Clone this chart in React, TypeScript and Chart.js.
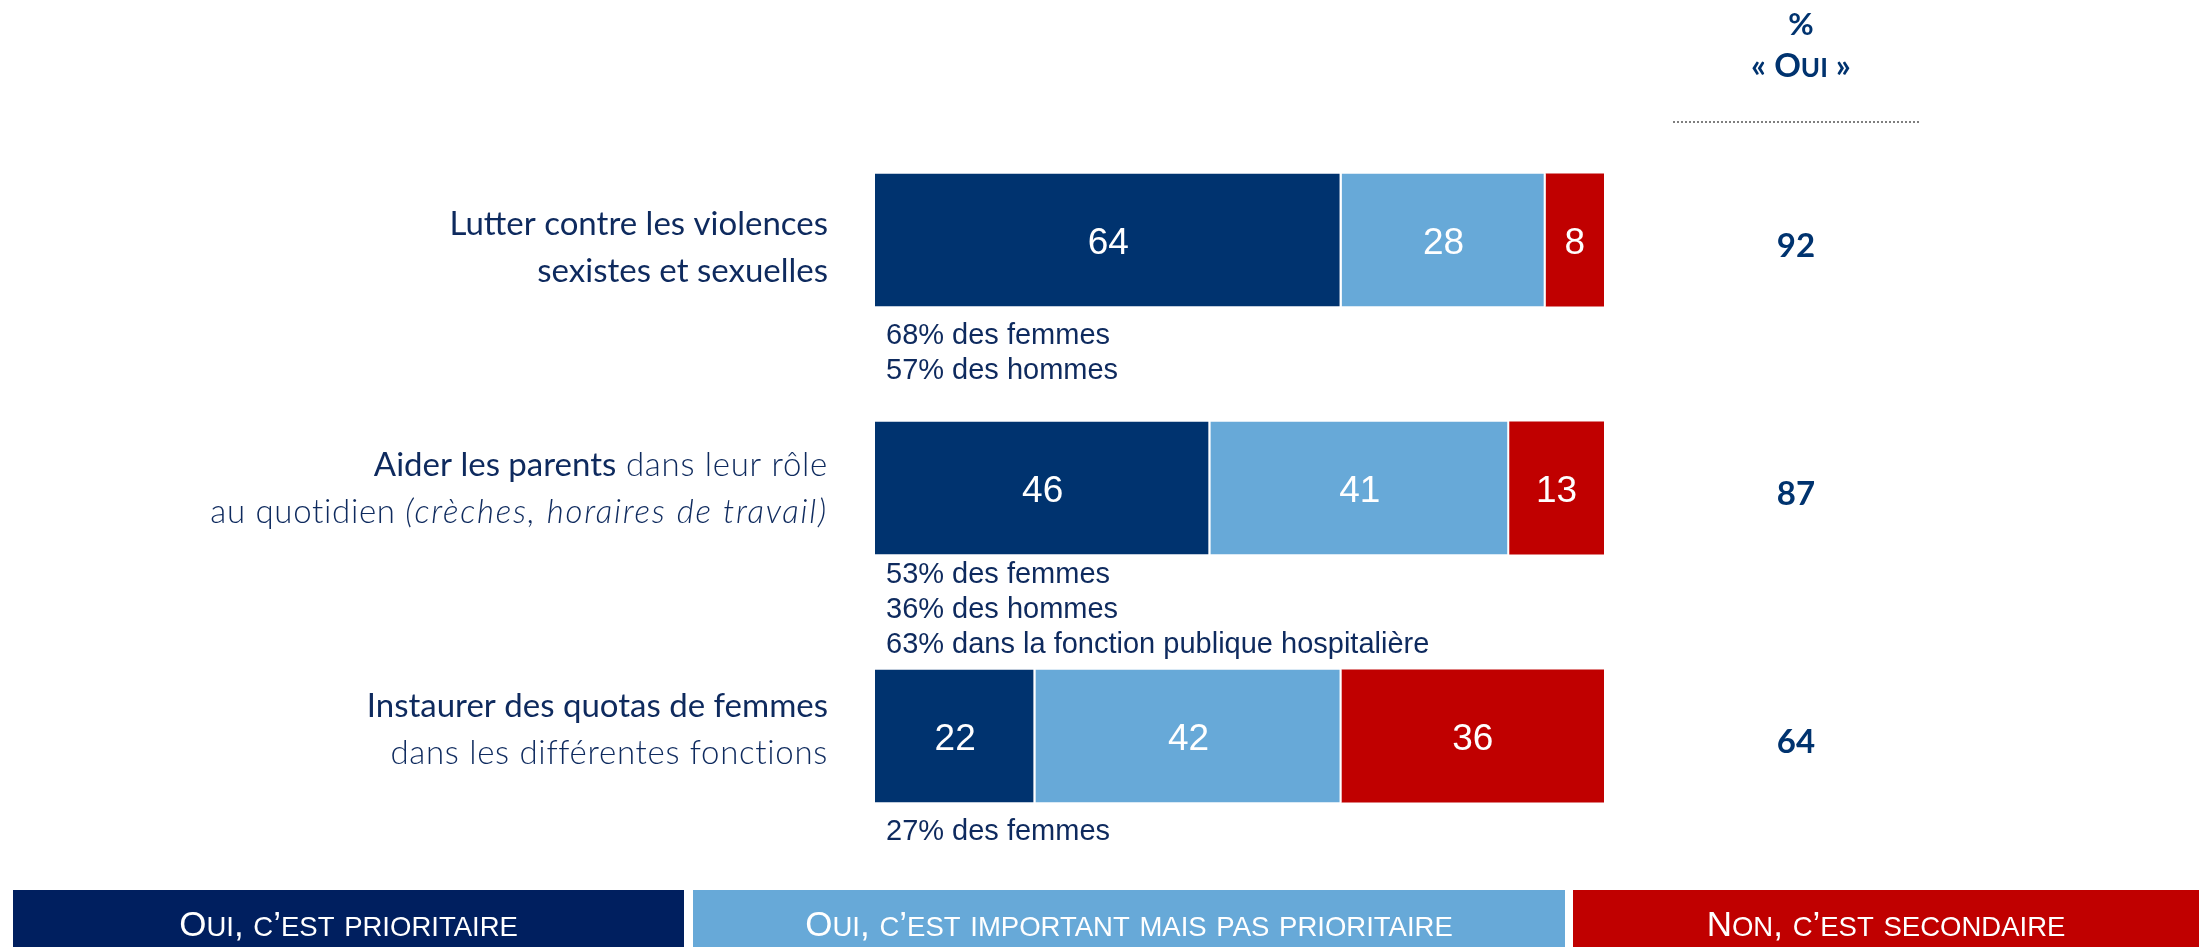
import { useEffect, useRef } from "react";
import { Chart, registerables } from "chart.js";

Chart.register(...registerables);

// ---------- data ----------
const categories = [
  "Lutter contre les violences sexistes et sexuelles",
  "Aider les parents dans leur rôle au quotidien (crèches, horaires de travail)",
  "Instaurer des quotas de femmes dans les différentes fonctions",
];
const seriesNames = [
  "Oui, c’est prioritaire",
  "Oui, c’est important mais pas prioritaire",
  "Non, c’est secondaire",
];
const prioritaire = [64, 46, 22];
const important = [28, 41, 42];
const secondaire = [8, 13, 36];
const totalOui = [92, 87, 64];
const subgroupNotes = [
  ["68% des femmes", "57% des hommes"],
  ["53% des femmes", "36% des hommes", "63% dans la fonction publique hospitalière"],
  ["27% des femmes"],
];
const headerLines = ["%", "« Oui »"];

// rich label runs: [text, kind]
type Run = [string, "main" | "light" | "lightItalic"];
const labelLines: Run[][][] = [
  [[["Lutter contre les violences", "main"]], [["sexistes et sexuelles", "main"]]],
  [
    [["Aider les parents", "main"], [" dans leur rôle", "light"]],
    [["au quotidien ", "light"], ["(crèches, horaires de travail)", "lightItalic"]],
  ],
  [[["Instaurer des quotas de femmes", "main"]], [["dans les différentes fonctions", "light"]]],
];

// ---------- layout / styles ----------
const labelOffsets = [8, 1, -6];
const NAVY = "#00336F";
const LIGHT = "#67A9D8";
const RED = "#C00000";
const LEGEND_NAVY = "#001F5F";
const TEXT = "#0E2A5E";

function drawSmallCaps(
  ctx: CanvasRenderingContext2D,
  text: string,
  cx: number,
  y: number,
  big: number,
  small: number,
  weight: string,
  family: string,
  color: string
) {
  const runs: { t: string; lower: boolean; w: number }[] = [];
  for (const ch of text) {
    const lower = ch !== ch.toUpperCase();
    const r = runs[runs.length - 1];
    if (r && r.lower === lower) r.t += ch;
    else runs.push({ t: ch, lower, w: 0 });
  }
  let total = 0;
  for (const r of runs) {
    ctx.font = `${weight} ${r.lower ? small : big}px ${family}`;
    r.w = ctx.measureText(r.lower ? r.t.toUpperCase() : r.t).width;
    total += r.w;
  }
  let x = cx - total / 2;
  ctx.textAlign = "left";
  ctx.textBaseline = "alphabetic";
  ctx.fillStyle = color;
  for (const r of runs) {
    ctx.font = `${weight} ${r.lower ? small : big}px ${family}`;
    ctx.fillText(r.lower ? r.t.toUpperCase() : r.t, x, y);
    x += r.w;
  }
}

const applyRunFont = (ctx: any, kind: string) => {
  if (kind === "main") {
    ctx.font = "400 33px Lato";
    ctx.letterSpacing = "0px";
  } else if (kind === "light") {
    ctx.font = "300 33px Lato";
    ctx.letterSpacing = "0.7px";
  } else {
    ctx.font = "italic 300 33px Lato";
    ctx.letterSpacing = "1.8px";
  }
};

const decorPlugin = {
  id: "decor",
  afterDatasetsDraw(chart: any) {
    const ctx: any = chart.ctx;
    const ys = chart.scales.y;
    ctx.save();

    // values inside bars
    chart.data.datasets.forEach((ds: any, di: number) => {
      const meta = chart.getDatasetMeta(di);
      meta.data.forEach((el: any, i: number) => {
        const cx = (el.x + el.base) / 2;
        ctx.font = "400 37px 'Liberation Sans', Arial";
        ctx.fillStyle = "#ffffff";
        ctx.textAlign = "center";
        ctx.textBaseline = "alphabetic";
        ctx.fillText(String(ds.data[i]), cx, el.y + 14);
      });
    });

    const meta0 = chart.getDatasetMeta(0);
    categories.forEach((_c, i) => {
      const el = meta0.data[i];
      const cy = ys.getPixelForValue(i);
      const bottom = el.y + el.height / 2;

      // left labels
      const lines = labelLines[i];
      const lh = 47;
      lines.forEach((line, li) => {
        const y = cy + labelOffsets[i] + (li - (lines.length - 1) / 2) * lh;
        let total = 0;
        const widths = line.map(([t, k]) => {
          applyRunFont(ctx, k);
          const w = ctx.measureText(t).width;
          total += w;
          return w;
        });
        let x = 828 - total;
        ctx.textAlign = "left";
        ctx.textBaseline = "middle";
        ctx.fillStyle = TEXT;
        line.forEach(([t, k], ri) => {
          applyRunFont(ctx, k);
          ctx.fillText(t, x, y);
          x += widths[ri];
        });
      });
      ctx.letterSpacing = "0px";

      // subgroup notes
      const notes = subgroupNotes[i];
      const first = bottom + (notes.length > 2 ? 21 : 30);
      ctx.font = "400 29px 'Liberation Sans', Arial";
      ctx.fillStyle = TEXT;
      ctx.textAlign = "left";
      ctx.textBaseline = "middle";
      notes.forEach((n, ni) => ctx.fillText(n, 886, first + ni * 35));

      // total oui
      ctx.font = "700 33px Lato";
      ctx.fillStyle = NAVY;
      ctx.textAlign = "center";
      ctx.textBaseline = "middle";
      ctx.fillText(String(totalOui[i]), 1796, cy + 6);
    });

    // header
    ctx.font = "700 31px Lato";
    ctx.fillStyle = NAVY;
    ctx.textAlign = "center";
    ctx.textBaseline = "alphabetic";
    ctx.fillText(headerLines[0], 1801, 35);
    drawSmallCaps(ctx, headerLines[1], 1801, 77, 33, 26, "700", "Lato", NAVY);

    // dotted rule
    ctx.strokeStyle = "#7f7f7f";
    ctx.lineWidth = 2;
    ctx.setLineDash([2, 2]);
    ctx.beginPath();
    ctx.moveTo(1673, 122);
    ctx.lineTo(1920, 122);
    ctx.stroke();
    ctx.setLineDash([]);

    // legend boxes
    const boxes = [
      { x0: 13, x1: 684, color: LEGEND_NAVY },
      { x0: 693, x1: 1565, color: LIGHT },
      { x0: 1573, x1: 2199, color: RED },
    ];
    boxes.forEach((b, bi) => {
      ctx.fillStyle = b.color;
      ctx.fillRect(b.x0, 890, b.x1 - b.x0, 57);
      drawSmallCaps(
        ctx,
        seriesNames[bi],
        (b.x0 + b.x1) / 2,
        936,
        35,
        27.5,
        "400",
        "'Liberation Sans', Arial",
        "#ffffff"
      );
    });

    ctx.restore();
  },
};

export default function App() {
  const ref = useRef<HTMLCanvasElement>(null);
  useEffect(() => {
    document.body.style.margin = "0";
    if (!ref.current) return;
    const chart = new Chart(ref.current, {
      type: "bar",
      data: {
        labels: categories,
        datasets: [
          { label: seriesNames[0], data: prioritaire, backgroundColor: NAVY },
          { label: seriesNames[1], data: important, backgroundColor: LIGHT },
          { label: seriesNames[2], data: secondaire, backgroundColor: RED },
        ].map((d, i) => ({
          ...d,
          borderColor: "#ffffff",
          borderWidth: { left: 0, top: 0, bottom: 0, right: i < 2 ? 2 : 0 },
          borderSkipped: false,
          categoryPercentage: 1,
          barPercentage: 0.536,
        })) as any,
      },
      options: {
        indexAxis: "y",
        responsive: false,
        animation: false,
        devicePixelRatio: 1,
        layout: { padding: { left: 875, right: 595, top: 116, bottom: 87 } },
        scales: {
          x: { stacked: true, min: 0, max: 100, display: false },
          y: { stacked: true, display: false },
        },
        plugins: { legend: { display: false }, tooltip: { enabled: false } },
      },
      plugins: [decorPlugin],
    });
    return () => chart.destroy();
  }, []);
  return (
    <div style={{ position: "absolute", left: 0, top: 0, width: 2199, height: 947, background: "#fff" }}>
      <canvas ref={ref} width={2199} height={947} />
    </div>
  );
}
